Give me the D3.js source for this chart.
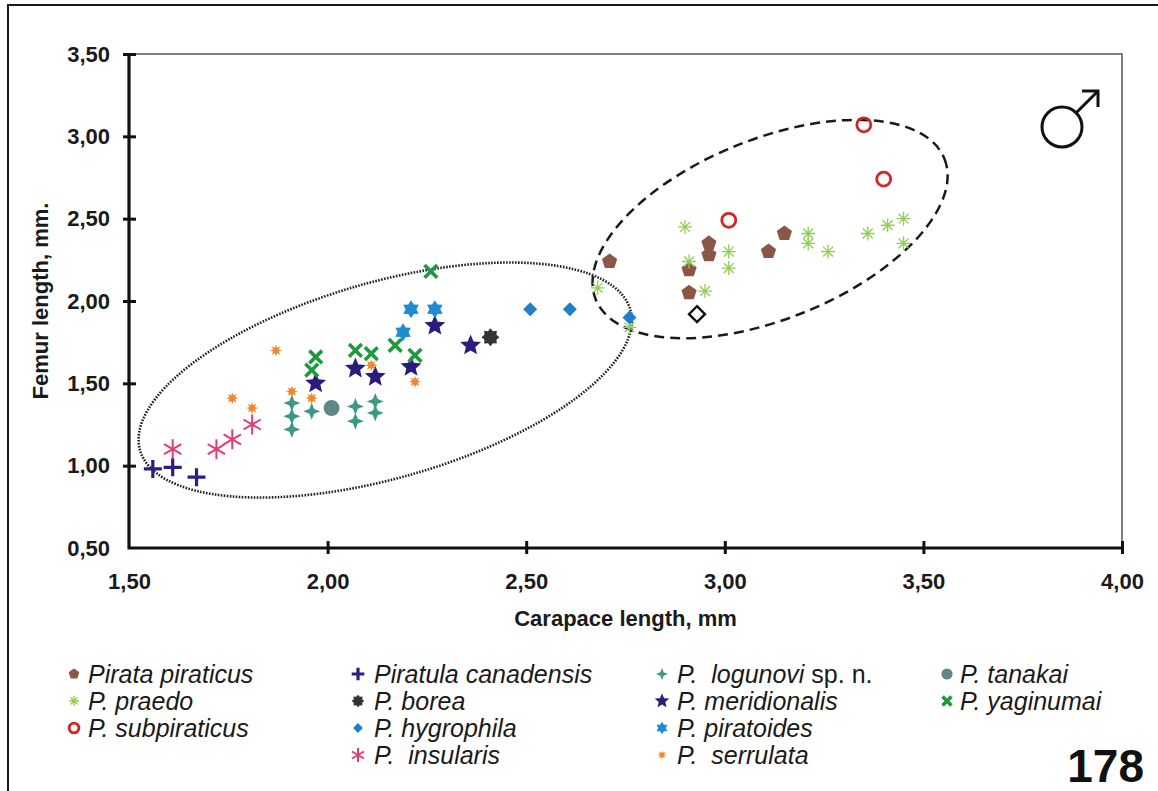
<!DOCTYPE html>
<html>
<head>
<meta charset="utf-8">
<script src="https://cdn.jsdelivr.net/npm/d3@7"></script>
<style>
  body { margin: 0; background: #fff; }
  svg { display: block; }
</style>
</head>
<body>
<div id="chart"></div>
<script>
// --- data (carapace length, femur length), mm ---
var piraticusPts   = [[2.71,2.24],[2.96,2.35],[2.96,2.28],[2.91,2.19],[2.91,2.05],[3.11,2.30],[3.15,2.41]];
var praedoPts      = [[2.68,2.08],[2.76,1.84],[2.90,2.45],[2.91,2.24],[3.01,2.30],[3.01,2.20],[2.95,2.06],
                      [3.21,2.41],[3.21,2.35],[3.26,2.30],[3.36,2.41],[3.41,2.46],[3.45,2.50],[3.45,2.35]];
var subpiraticusPts = [[3.01,2.49],[3.35,3.07],[3.40,2.74]];
var canadensisPts  = [[1.56,0.98],[1.61,0.99],[1.67,0.93]];
var boreaPts       = [[2.41,1.78]];
var hygrophilaPts  = [[2.51,1.95],[2.61,1.95],[2.76,1.90]];
var insularisPts   = [[1.61,1.10],[1.72,1.10],[1.76,1.16],[1.81,1.25]];
var logunoviPts    = [[1.91,1.38],[1.91,1.30],[1.91,1.22],[1.96,1.33],[2.07,1.36],[2.07,1.27],[2.12,1.39],[2.12,1.32]];
var meridionalisPts = [[1.97,1.50],[2.07,1.59],[2.12,1.54],[2.21,1.60],[2.27,1.85],[2.36,1.73]];
var piratoidesPts  = [[2.21,1.95],[2.27,1.95],[2.19,1.81]];
var serrulataPts   = [[1.87,1.70],[1.76,1.41],[1.81,1.35],[1.91,1.45],[1.96,1.41],[2.11,1.61],[2.22,1.51]];
var tanakaiPts     = [[2.01,1.35]];
var yaginumaiPts   = [[1.97,1.66],[1.96,1.58],[2.07,1.70],[2.11,1.68],[2.17,1.73],[2.22,1.67],[2.26,2.18]];
var unnamedPts     = [[2.93,1.92]];

var xTicks = [1.5, 2.0, 2.5, 3.0, 3.5, 4.0];
var yTicks = [0.5, 1.0, 1.5, 2.0, 2.5, 3.0, 3.5];

// group outlines (centre in data units)
var smallGroup = [2.145, 1.52];
var largeGroup = [3.114, 2.437];

// --- look ---
var series = [
  {name: 'Pirata piraticus',    pts: piraticusPts,    shape: 'pentagon', color: '#8b5645', size: 8},
  {name: 'P. praedo',           pts: praedoPts,       shape: 'ast8',     color: '#8dd052', size: 7},
  {name: 'P. subpiraticus',     pts: subpiraticusPts, shape: 'ring',     color: '#d42424', size: 7},
  {name: 'Piratula canadensis', pts: canadensisPts,   shape: 'plus',     color: '#2a1f85', size: 9},
  {name: 'P. borea',            pts: boreaPts,        shape: 'star8',    color: '#333333', size: 9},
  {name: 'P. hygrophila',       pts: hygrophilaPts,   shape: 'diamond',  color: '#1f80c8', size: 7},
  {name: 'P.  insularis',       pts: insularisPts,    shape: 'ast6',     color: '#e23b78', size: 10},
  {name: 'P.  logunovi',        pts: logunoviPts,     shape: 'star4',    color: '#3d9985', size: 8.5, extra: ' sp. n.'},
  {name: 'P. meridionalis',     pts: meridionalisPts, shape: 'star5',    color: '#2a1c7c', size: 11},
  {name: 'P. piratoides',       pts: piratoidesPts,   shape: 'star6',    color: '#1e8bd2', size: 9},
  {name: 'P.  serrulata',       pts: serrulataPts,    shape: 'burst',    color: '#f0892e', size: 6},
  {name: 'P. tanakai',          pts: tanakaiPts,      shape: 'dot',      color: '#5f8788', size: 8},
  {name: 'P. yaginumai',        pts: yaginumaiPts,    shape: 'cross',    color: '#1d9a3e', size: 9},
  {name: null,                  pts: unnamedPts,      shape: 'odiamond', color: '#111111', size: 8}
];

var W = 1158, H = 791;
var margin = {left: 129, right: 36, top: 54, bottom: 243};

var x = d3.scaleLinear().domain([1.5, 4.0]).range([margin.left, W - margin.right]);
var y = d3.scaleLinear().domain([0.5, 3.5]).range([H - margin.bottom, margin.top]);
var fmt = function(d) { return d3.format('.2f')(d).replace('.', ','); };
var FONT = 'Liberation Sans, Arial, Helvetica, sans-serif';

function star(n, r, ri, rot) {
  var p = [];
  for (var i = 0; i < 2 * n; i++) {
    var a = rot + i * Math.PI / n;
    var rr = i % 2 ? ri : r;
    p.push([rr * Math.sin(a), -rr * Math.cos(a)]);
  }
  return 'M' + p.map(function(q) { return q[0].toFixed(2) + ',' + q[1].toFixed(2); }).join('L') + 'Z';
}
function rays(angles, r) {
  return angles.map(function(a) {
    var t = a * Math.PI / 180, dx = r * Math.cos(t), dy = r * Math.sin(t);
    return 'M' + (-dx).toFixed(2) + ',' + (-dy).toFixed(2) + 'L' + dx.toFixed(2) + ',' + dy.toFixed(2);
  }).join('');
}

// returns {d, fill, stroke, sw}
function marker(shape, s, c) {
  switch (shape) {
    case 'pentagon': return {d: star(5, s, s * Math.cos(Math.PI / 5), 0), fill: c};
    case 'ast8':     return {d: rays([0, 45, 90, 135], s), fill: 'none', stroke: c, sw: 1.3};
    case 'ring':     return {d: d3.arc()({innerRadius: 0, outerRadius: s, startAngle: 0, endAngle: 2 * Math.PI}), fill: 'none', stroke: c, sw: 2.8};
    case 'plus':     return {d: rays([0, 90], s), fill: 'none', stroke: c, sw: 3.2};
    case 'star8':    return {d: star(8, s, s * 0.72, 0), fill: c};
    case 'diamond':  return {d: star(2, s, s, 0), fill: c};
    case 'ast6':     return {d: rays([90, 30, 150], s), fill: 'none', stroke: c, sw: 2};
    case 'star4':    return {d: star(4, s, s * 0.4, 0), fill: c};
    case 'star5':    return {d: star(5, s, s * 0.45, 0), fill: c};
    case 'star6':    return {d: star(6, s, s * 0.6, 0), fill: c};
    case 'burst':    return {d: star(8, s, s * 0.5, 0), fill: c};
    case 'dot':      return {d: d3.arc()({innerRadius: 0, outerRadius: s, startAngle: 0, endAngle: 2 * Math.PI}), fill: c};
    case 'cross':    return {d: rays([45, 135], s), fill: 'none', stroke: c, sw: 3.6};
    case 'odiamond': return {d: star(2, s, s, 0), fill: 'none', stroke: c, sw: 2.4};
  }
}
function drawMarker(sel, shape, s, c) {
  var m = marker(shape, s, c);
  sel.append('path')
    .attr('d', m.d)
    .attr('fill', m.fill)
    .attr('stroke', m.stroke || 'none')
    .attr('stroke-width', m.sw || 0)
    .attr('stroke-linecap', 'butt');
}

var svg = d3.select('#chart').append('svg')
  .attr('width', W).attr('height', H)
  .style('font-family', FONT);

svg.append('rect').attr('width', W).attr('height', H).attr('fill', '#fff');

// outer frame (left + top only)
svg.append('path').attr('d', 'M8,' + H + 'V5H' + W)
  .attr('fill', 'none').attr('stroke', '#1a1a1a').attr('stroke-width', 2);

// thin plot frame top/right
svg.append('path')
  .attr('d', 'M' + x(1.5) + ',' + y(3.5) + 'H' + x(4.0) + 'V' + y(0.5))
  .attr('fill', 'none').attr('stroke', '#555').attr('stroke-width', 1.5);

// group ellipses
svg.append('ellipse')
  .attr('transform', 'translate(' + x(smallGroup[0]) + ',' + y(smallGroup[1]) + ') rotate(-16)')
  .attr('rx', 255).attr('ry', 98)
  .attr('fill', 'none').attr('stroke', '#222').attr('stroke-width', 2.6)
  .attr('stroke-dasharray', '1.6 1.4');
svg.append('ellipse')
  .attr('transform', 'translate(' + x(largeGroup[0]) + ',' + y(largeGroup[1]) + ') rotate(-22)')
  .attr('rx', 188).attr('ry', 90)
  .attr('fill', 'none').attr('stroke', '#1a1a1a').attr('stroke-width', 2.5)
  .attr('stroke-dasharray', '10 6');

// axes
var gx = svg.append('g').attr('transform', 'translate(0,' + y(0.5) + ')')
  .call(d3.axisBottom(x).tickValues(xTicks).tickFormat(fmt).tickSize(0).tickPadding(25));
gx.select('.domain').remove();
gx.selectAll('.tick').filter(function(d) { return d > 1.5; })
  .append('line').attr('y1', -7).attr('y2', 6).attr('stroke', '#111').attr('stroke-width', 3);

var gy = svg.append('g').attr('transform', 'translate(' + x(1.5) + ',0)')
  .call(d3.axisLeft(y).tickValues(yTicks).tickFormat(fmt).tickSize(0).tickPadding(19));
gy.select('.domain').remove();
gy.selectAll('.tick').filter(function(d) { return d > 0.5; })
  .append('line').attr('x1', -6).attr('x2', 7).attr('stroke', '#111').attr('stroke-width', 3);

svg.selectAll('.tick text')
  .attr('font-family', FONT).attr('font-size', 22).attr('font-weight', 'bold').attr('fill', '#1a1a1a');

svg.append('path')
  .attr('d', 'M' + x(1.5) + ',' + y(3.5) + 'V' + y(0.5) + 'H' + x(4.0))
  .attr('fill', 'none').attr('stroke', '#111').attr('stroke-width', 3.2);

// axis titles
svg.append('text')
  .attr('x', (x(1.5) + x(4.0)) / 2).attr('y', 626)
  .attr('text-anchor', 'middle').attr('font-size', 22).attr('font-weight', 'bold').attr('fill', '#1a1a1a')
  .text('Carapace length, mm');
svg.append('text')
  .attr('transform', 'translate(48,' + ((y(0.5) + y(3.5)) / 2) + ') rotate(-90)')
  .attr('text-anchor', 'middle').attr('font-size', 22).attr('font-weight', 'bold').attr('fill', '#1a1a1a')
  .text('Femur length, mm.');

// points
series.forEach(function(s) {
  svg.append('g').selectAll('g')
    .data(s.pts)
    .enter().append('g')
    .attr('transform', function(d) { return 'translate(' + x(d[0]) + ',' + y(d[1]) + ')'; })
    .each(function() { drawMarker(d3.select(this), s.shape, s.size, s.color); });
});

// male sign
var male = svg.append('g').attr('transform', 'translate(1062,127)')
  .attr('fill', 'none').attr('stroke', '#111').attr('stroke-width', 3);
male.append('circle').attr('r', 20);
male.append('path').attr('d', 'M14,-14L36,-36');
male.append('path').attr('d', 'M20,-36H36V-20');

// legend
var legCols = [
  {mx: 74,  tx: 88,  items: [0, 1, 2]},
  {mx: 358, tx: 374, items: [3, 4, 5, 6]},
  {mx: 662, tx: 677, items: [7, 8, 9, 10]},
  {mx: 947, tx: 960, items: [11, 12]}
];
var legRowY = [674, 701, 728, 755];
legCols.forEach(function(col) {
  col.items.forEach(function(idx, r) {
    var s = series[idx];
    var g = svg.append('g').attr('transform', 'translate(0,' + legRowY[r] + ')');
    var mg = g.append('g').attr('transform', 'translate(' + col.mx + ',0)');
    drawMarker(mg, s.shape, Math.max(4.5, s.size * 0.7), s.color);
    var t = g.append('text').attr('x', col.tx).attr('y', 8.5)
      .attr('font-size', 25).attr('font-style', 'italic').attr('fill', '#1a1a1a')
      .style('white-space', 'pre');
    t.append('tspan').text(s.name);
    if (s.extra) t.append('tspan').attr('font-style', 'normal').text(s.extra);
  });
});

svg.append('text')
  .attr('x', 1144).attr('y', 782)
  .attr('text-anchor', 'end').attr('font-size', 46).attr('font-weight', 'bold').attr('fill', '#111')
  .text('178');
</script>
</body>
</html>
